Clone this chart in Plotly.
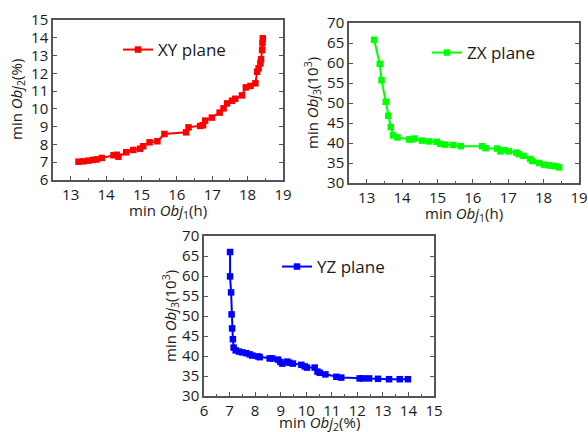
import plotly.graph_objects as go

# ---- XY plane: Obj1 (h) vs Obj2 (%) ----
xy_obj1 = [13.22, 13.36, 13.50, 13.64, 13.74, 13.88, 14.21, 14.30, 14.35, 14.57, 14.77, 14.96,
           15.05, 15.23, 15.45, 15.65, 16.26, 16.33, 16.66, 16.74, 16.80, 16.99, 17.21, 17.32,
           17.42, 17.56, 17.65, 17.84, 17.95, 18.08, 18.22, 18.27, 18.31, 18.36, 18.38, 18.41,
           18.42, 18.43]
xy_obj2 = [7.03, 7.05, 7.09, 7.13, 7.16, 7.24, 7.39, 7.42, 7.31, 7.56, 7.69, 7.76,
           7.90, 8.12, 8.18, 8.59, 8.68, 8.96, 9.04, 9.08, 9.34, 9.51, 9.79, 10.03,
           10.31, 10.46, 10.57, 10.76, 11.21, 11.29, 11.44, 12.09, 12.28, 12.56, 12.79, 13.31,
           13.69, 13.97]

# ---- ZX plane: Obj1 (h) vs Obj3 (10^3) ----
zx_obj1 = [13.21, 13.37, 13.42, 13.54, 13.61, 13.68, 13.75, 13.87, 14.20, 14.27, 14.35, 14.56,
           14.77, 14.98, 15.08, 15.22, 15.45, 15.66, 16.26, 16.36, 16.69, 16.78, 16.88, 17.02,
           17.23, 17.30, 17.43, 17.62, 17.68, 17.87, 18.01, 18.15, 18.25, 18.34, 18.44]
zx_obj3 = [65.8, 59.8, 55.7, 50.3, 46.8, 44.0, 41.9, 41.4, 40.9, 40.9, 41.1, 40.6,
           40.4, 40.3, 39.8, 39.6, 39.5, 39.2, 39.2, 38.7, 38.6, 37.9, 38.2, 37.9,
           37.6, 37.2, 36.8, 36.0, 35.5, 35.0, 34.6, 34.4, 34.3, 34.2, 33.9]

# ---- YZ plane: Obj2 (%) vs Obj3 (10^3) ----
yz_obj2 = [7.02, 7.02, 7.06, 7.08, 7.10, 7.13, 7.16, 7.24, 7.37, 7.50, 7.66, 7.79, 7.89,
           8.11, 8.18, 8.57, 8.67, 8.90, 8.99, 9.07, 9.26, 9.35, 9.48, 9.81, 9.94, 10.03,
           10.33, 10.44, 10.53, 10.75, 11.18, 11.37, 12.09, 12.22, 12.46, 12.81, 13.24,
           13.66, 13.98]
yz_obj3 = [66.0, 59.9, 55.9, 50.4, 46.9, 44.2, 42.1, 41.4, 41.1, 40.9, 40.7, 40.4, 40.1,
           39.9, 39.7, 39.4, 39.4, 39.1, 38.5, 38.1, 38.6, 38.3, 38.1, 37.8, 37.4, 37.1,
           37.1, 36.1, 35.8, 35.4, 34.8, 34.6, 34.4, 34.4, 34.4, 34.3, 34.2,
           34.2, 34.2]

T_OBJ1 = "min <i>Obj</i><sub>1</sub>(h)"
T_OBJ2 = "min <i>Obj</i><sub>2</sub>(%)"
T_OBJ3 = "min <i>Obj</i><sub>3</sub>(10<sup>3</sup>)"

FONT = "Open Sans"
AX = "#555555"
TXT = "#1a1a1a"

fig = go.Figure()
fig.add_trace(go.Scatter(x=xy_obj1, y=xy_obj2, mode="lines+markers", name="XY plane",
                         line=dict(color="#FF0000", width=2),
                         marker=dict(symbol="square", size=6.5, color="#FF0000"),
                         xaxis="x", yaxis="y", legend="legend", showlegend=True))
fig.add_trace(go.Scatter(x=zx_obj1, y=zx_obj3, mode="lines+markers", name="ZX plane",
                         line=dict(color="#00FF00", width=2),
                         marker=dict(symbol="square", size=6.5, color="#00FF00"),
                         xaxis="x2", yaxis="y2", legend="legend2", showlegend=True))
fig.add_trace(go.Scatter(x=yz_obj2, y=yz_obj3, mode="lines+markers", name="YZ plane",
                         line=dict(color="#0000FF", width=2),
                         marker=dict(symbol="square", size=6.5, color="#0000FF"),
                         xaxis="x3", yaxis="y3", legend="legend3", showlegend=True))

def xaxis(domain, rng, anchor, dtick):
    return dict(domain=domain, range=rng, anchor=anchor, dtick=dtick, tick0=0,
                automargin=False,
                showline=True, linecolor=AX, linewidth=1.5, mirror=True,
                ticks="inside", ticklen=4, tickcolor=AX, tickwidth=1,
                minor=dict(ticks="inside", ticklen=2, tickcolor=AX, dtick=dtick / 2),
                showgrid=False, zeroline=False, ticklabelstandoff=0,
                tickfont=dict(family=FONT, size=15, color=TXT))

def yaxis(domain, rng, anchor, dtick):
    return dict(domain=domain, range=rng, anchor=anchor, dtick=dtick, tick0=0,
                automargin=False,
                showline=True, linecolor=AX, linewidth=1.5, mirror="ticks",
                ticks="inside", ticklen=4, tickcolor=AX, tickwidth=1,
                showgrid=False, zeroline=False,
                tickfont=dict(family=FONT, size=15, color=TXT))

W, H = 588, 432
LEG = dict(xanchor="left", yanchor="middle", bgcolor="rgba(0,0,0,0)",
           font=dict(family=FONT, size=17, color=TXT))

def title_ann(text, px, py, angle=0):
    return dict(text=text, x=px / W, y=1 - py / H, xref="paper", yref="paper",
                xanchor="center", yanchor="middle", showarrow=False, textangle=angle,
                font=dict(family=FONT, size=15, color=TXT))

fig.update_layout(
    width=W, height=H, margin=dict(l=0, r=0, t=0, b=0, autoexpand=False),
    paper_bgcolor="white", plot_bgcolor="white", showlegend=True,
    font=dict(family=FONT, size=15, color=TXT),
    xaxis=xaxis([53 / W, 283 / W], [12.5, 19], "y", 1),
    yaxis=yaxis([1 - 180 / H, 1 - 20 / H], [6, 15], "x", 1),
    xaxis2=xaxis([349 / W, 579 / W], [12.5, 19], "y2", 1),
    yaxis2=yaxis([1 - 183 / H, 1 - 23 / H], [30, 70], "x2", 5),
    xaxis3=xaxis([204 / W, 434 / W], [6, 15], "y3", 1),
    yaxis3=yaxis([1 - 396 / H, 1 - 236 / H], [30, 70], "x3", 5),
    legend=dict(x=118 / W, y=1 - 50 / H, **LEG),
    legend2=dict(x=427 / W, y=1 - 53 / H, **LEG),
    legend3=dict(x=277 / W, y=1 - 267 / H, **LEG),
    annotations=[
        title_ann(T_OBJ1, 168, 211),
        title_ann(T_OBJ2, 17, 100, -90),
        title_ann(T_OBJ1, 464, 214),
        title_ann(T_OBJ3, 312, 103, -90),
        title_ann(T_OBJ2, 319, 423),
        title_ann(T_OBJ3, 170, 316, -90),
    ],
)

fig.write_html("out.html")
